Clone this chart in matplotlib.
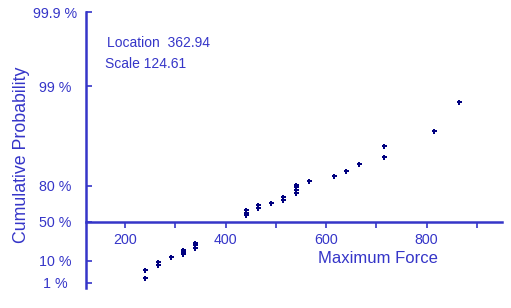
import numpy as np
import matplotlib
matplotlib.use("Agg")
import matplotlib.pyplot as plt
from matplotlib.ticker import FixedLocator, NullFormatter

# Dados (força máxima x probabilidade acumulada em %)
forca = [240, 240, 265, 265, 291, 315, 315, 315, 339, 339, 339,
         440, 440, 440, 465, 465, 491, 515, 515, 540, 540, 540, 540,
         565, 615, 640, 665, 715, 715, 815, 865]
prob = [1.89, 4.54, 7.09, 9.32, 12.48, 14.84, 17.12, 19.52, 21.05, 23.66, 26.36,
        56.78, 59.24, 61.62, 63.88, 66.49, 68.4, 70.52, 72.76, 75.18, 77.43, 79.22, 80.33,
        82.28, 84.76, 86.8, 89.24, 91.34, 93.7, 96.05, 98.36]

ticks_prob = [1, 10, 50, 80, 99, 99.9]
ticks_rotulo = ["1 %", "10 %", "50 %", "80 %", "99 %", "99.9 %"]
ticks_x = [200, 400, 600, 800]
ticks_x_menor = [300, 500, 700, 900]

location = 362.94
scale = 124.61

azul = "#3535c8"
marinho = "#000080"
plt.rcParams['font.family'] = ['Liberation Sans', 'DejaVu Sans']


# escala de probabilidade de Gumbel (máximos)
def gumbel(p):
    p = np.clip(np.asarray(p, dtype=float) / 100.0, 1e-9, 1 - 1e-9)
    return -np.log(-np.log(p))


def gumbel_inv(r):
    return 100.0 * np.exp(-np.exp(-np.asarray(r, dtype=float)))


fig = plt.figure(figsize=(5.11, 3.08), dpi=100)
ax = fig.add_axes([86 / 511, 1 - 288 / 308, 416 / 511, 276 / 308])

ax.plot(forca, prob, linestyle='none', marker='P', markersize=3.6,
        color=marinho, markeredgewidth=0)

ax.set_yscale('function', functions=(gumbel, gumbel_inv))
ax.set_ylim(0.444, 99.9)
ax.set_xlim(122, 950)

for lado in ['top', 'right']:
    ax.spines[lado].set_visible(False)
ax.spines['bottom'].set_position(('data', 50))
ax.spines['left'].set_color(azul)
ax.spines['bottom'].set_color(azul)
ax.spines['left'].set_linewidth(1.8)
ax.spines['bottom'].set_linewidth(1.8)

ax.yaxis.set_major_locator(FixedLocator(ticks_prob))
ax.yaxis.set_minor_locator(FixedLocator([]))
ax.set_yticklabels(ticks_rotulo)
ax.yaxis.set_minor_formatter(NullFormatter())
ax.tick_params(axis='y', direction='in', length=4, width=1.2, color=azul,
               labelcolor=azul, labelsize=10.3, pad=22)
for rot in ax.get_yticklabels():
    rot.set_ha('center')

ax.xaxis.set_major_locator(FixedLocator(ticks_x))
ax.xaxis.set_minor_locator(FixedLocator(ticks_x_menor))
ax.tick_params(axis='x', which='both', direction='out', length=4, width=1.2,
               color=azul, labelcolor=azul, labelsize=10.3, pad=4)

ax.set_xlabel("Maximum Force", color=azul, fontsize=12)
ax.xaxis.set_label_coords(0.702, 0.135)

fig.text(22 / 511, 1 - 155 / 308, "Cumulative Probability", rotation=90,
         ha='center', va='center', color=azul, fontsize=12.8)

fig.text(107 / 511, 1 - 43 / 308, f"Location  {location:.2f}", ha='left',
         va='center', color=azul, fontsize=10)
fig.text(105 / 511, 1 - 64 / 308, f"Scale {scale:.2f}", ha='left',
         va='center', color=azul, fontsize=10)

fig.savefig("out.png", dpi=100)
